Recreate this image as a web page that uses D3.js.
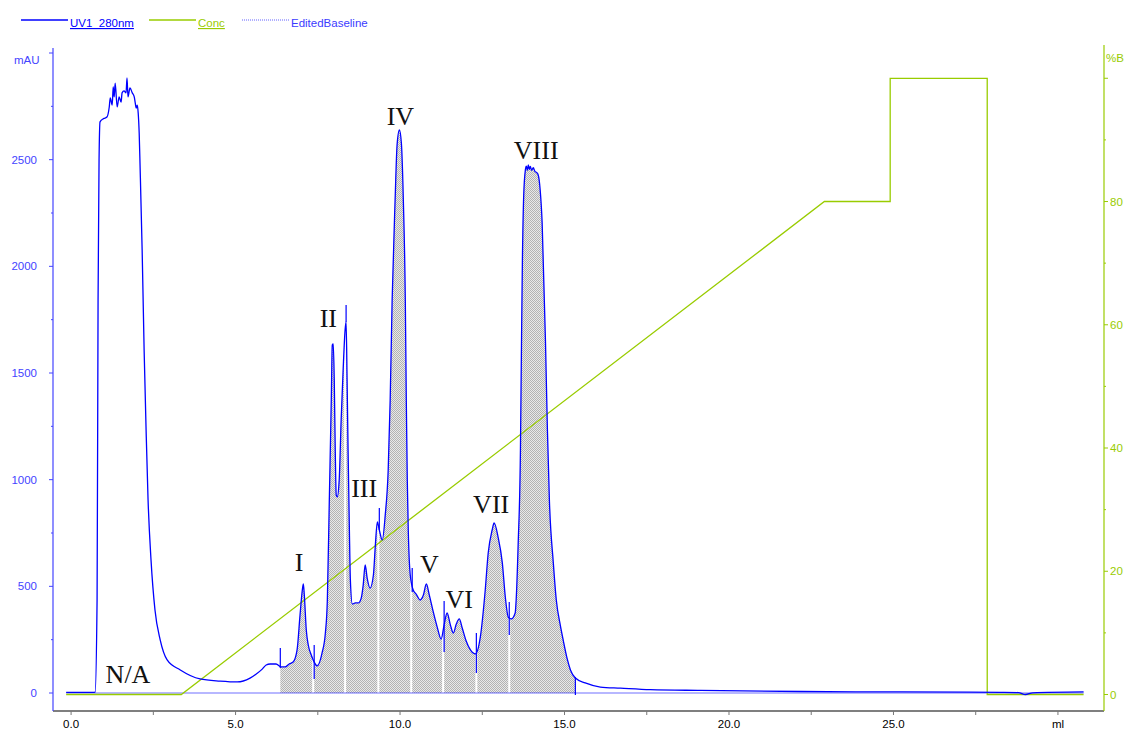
<!DOCTYPE html>
<html>
<head>
<meta charset="utf-8">
<script src="https://cdn.jsdelivr.net/npm/d3@7.9.0/dist/d3.min.js"></script>
<style>
  body { margin: 0; background: #fff; }
  svg { display: block; font-family: "Liberation Sans", Arial, sans-serif; }
</style>
</head>
<body>
<div id="chart"></div>
<script>
// UV trace [ml, mAU]
const uvTrace = [
  [-0.15,3],[0.27,3],[0.67,3],[0.73,4],[0.79,436],[0.82,1842],[0.85,2498],[0.88,2677],[0.97,2691],
  [1.03,2695],[1.09,2700],[1.16,2747],[1.19,2789],[1.25,2756],[1.28,2841],[1.31,2794],[1.34,2859],
  [1.40,2747],[1.46,2794],[1.52,2770],[1.55,2813],[1.61,2822],[1.67,2813],[1.70,2883],[1.73,2794],
  [1.79,2836],[1.86,2813],[1.92,2794],[1.95,2766],[1.98,2742],[2.01,2756],[2.04,2719],[2.07,2625],
  [2.10,2452],[2.16,2077],[2.22,1608],[2.28,1233],[2.34,905],[2.43,623],[2.55,389],[2.71,248],
  [2.92,155],[3.32,108],[3.92,66],[4.53,56],[5.05,52],[5.44,70],[5.63,89],[5.81,112],[5.93,131],
  [6.05,136],[6.23,136],[6.39,122],[6.51,122],[6.63,136],[6.75,145],[6.87,202],[6.96,366],[7.03,483],
  [7.06,511],[7.09,459],[7.15,295],[7.21,225],[7.30,178],[7.39,145],[7.48,127],[7.63,188],[7.73,281],
  [7.79,436],[7.85,905],[7.91,1373],[7.94,1631],[7.97,1636],[8.00,1467],[8.03,1139],[8.06,928],
  [8.09,919],[8.15,998],[8.21,1280],[8.27,1514],[8.33,1702],[8.36,1739],[8.39,1467],[8.42,1139],
  [8.46,764],[8.49,530],[8.55,417],[8.64,422],[8.73,422],[8.82,445],[8.88,506],[8.94,600],[9.00,539],
  [9.09,492],[9.19,553],[9.25,694],[9.31,802],[9.37,764],[9.46,717],[9.55,834],[9.64,1045],[9.70,1373],
  [9.76,1842],[9.85,2311],[9.91,2569],[9.98,2639],[10.04,2578],[10.10,2311],[10.16,1842],[10.19,1373],
  [10.22,998],[10.25,764],[10.31,553],[10.40,483],[10.49,464],[10.61,436],[10.71,459],[10.80,511],
  [10.89,459],[11.01,380],[11.13,309],[11.25,253],[11.34,319],[11.43,375],[11.53,319],[11.62,281],
  [11.71,323],[11.80,347],[11.89,305],[12.01,244],[12.14,202],[12.29,183],[12.44,262],[12.59,483],
  [12.68,656],[12.80,764],[12.86,797],[12.98,731],[13.11,609],[13.20,450],[13.29,356],[13.38,347],
  [13.50,375],[13.53,436],[13.59,694],[13.66,1139],[13.69,1608],[13.72,2030],[13.76,2334],[13.81,2452],
  [13.84,2470],[13.87,2450],[13.90,2475],[13.93,2455],[13.96,2468],[14.00,2450],[14.05,2462],
  [14.10,2445],[14.15,2440],[14.20,2428],[14.26,2358],[14.32,2203],[14.42,1655],[14.48,1233],
  [14.54,905],[14.66,609],[14.75,436],[14.87,319],[14.96,248],[15.09,155],[15.18,108],[15.33,70],
  [15.63,47],[16.09,28],[16.70,23],[17.61,16],[19.13,12],[22.17,7],[25.21,5],[28.25,3],[28.80,2],
  [29.01,-7],[29.23,1],[30.78,5]
];

// gradient (%B)
const concMl = [-0.15, 3.35, 22.9, 24.9, 24.9, 27.85, 27.85, 30.78];
const concB  = [0, 0, 80, 80, 100, 100, 0, 0];

// fraction cut points (ml), first and last bound the integrated region
const fractionCuts = [6.36, 7.36, 8.33, 9.34, 10.34, 11.31, 12.32, 13.32, 15.33];

// peak drop markers: ml, top mAU, bottom mAU
const markerMl  = [6.36, 7.39, 8.36, 9.37, 10.37, 11.34, 12.32, 13.32, 15.33];
const markerTop = [211, 225, 1819, 867, 586, 431, 281, 427, 75];
const markerBot = [117, 66, 1739, 764, 473, 192, 94, 272, -9];

// peak labels
const peakNames = ["N/A", "I", "II", "III", "IV", "V", "VI", "VII", "VIII"];
const peakMl    = [1.73, 6.93, 7.82, 8.91, 10.01, 10.89, 11.80, 12.77, 14.14];
const peakMau   = [47, 572, 1716, 919, 2664, 561, 398, 846, 2505];

const xTicks = d3.range(0, 30.01, 2.5);
const xLabels = [0, 5, 10, 15, 20, 25];
const yTicks = d3.range(0, 3001, 250);
const yLabels = [0, 500, 1000, 1500, 2000, 2500];
const bTicks = d3.range(0, 101, 10);
const bLabels = [0, 20, 40, 60, 80];

const W = 1126, H = 731;
const blue = "#0000ff", axisBlue = "#4444ff", green = "#99cc00";
const fs = 11.5;

const svg = d3.select("#chart").append("svg")
  .attr("width", W).attr("height", H);

const x = d3.scaleLinear().domain([-0.55, 31.4]).range([53, 1104]);
const y = d3.scaleLinear().domain([0, 3000]).range([693, 53]);
const yB = d3.scaleLinear().domain([0, 105.4]).range([694.5, 45]);

// dither pattern for integrated peaks
const defs = svg.append("defs");
const pat = defs.append("pattern")
  .attr("id", "dither").attr("width", 2).attr("height", 2)
  .attr("patternUnits", "userSpaceOnUse");
pat.append("rect").attr("width", 2).attr("height", 2).attr("fill", "#e8e8e8");
pat.append("rect").attr("width", 1).attr("height", 1).attr("fill", "#b2b2b2");
pat.append("rect").attr("x", 1).attr("y", 1).attr("width", 1).attr("height", 1).attr("fill", "#b2b2b2");

const inRegion = uvTrace.filter(d => d[0] >= fractionCuts[0] - 0.2 && d[0] <= fractionCuts[fractionCuts.length - 1] + 0.2);
const area = d3.area()
  .x(d => x(d[0])).y0(y(0)).y1(d => y(Math.max(0, d[1])))
  .curve(d3.curveMonotoneX);

defs.append("clipPath").attr("id", "cutRange")
  .append("rect")
  .attr("x", x(fractionCuts[0]))
  .attr("width", x(fractionCuts[fractionCuts.length - 1]) - x(fractionCuts[0]))
  .attr("y", 0).attr("height", H);

defs.append("clipPath").attr("id", "peakArea")
  .append("path").attr("d", area(inRegion));

svg.append("g").attr("clip-path", "url(#cutRange)")
  .append("path")
  .attr("d", area(inRegion))
  .attr("fill", "url(#dither)");

// white separators between fractions
svg.append("g").attr("clip-path", "url(#peakArea)")
  .selectAll("line").data(fractionCuts.slice(1, -1)).join("line")
  .attr("x1", d => x(d)).attr("x2", d => x(d))
  .attr("y1", y(0)).attr("y2", 40)
  .attr("stroke", "#fff").attr("stroke-width", 2);

// edited baseline
svg.append("line")
  .attr("x1", x(-0.15)).attr("x2", x(30.78))
  .attr("y1", y(0)).attr("y2", y(0))
  .attr("stroke", blue).attr("stroke-width", 0.8).attr("opacity", 0.7);

// conc line
const concData = concMl.map((m, i) => [m, concB[i]]);
svg.append("path")
  .attr("d", d3.line().x(d => x(d[0])).y(d => yB(d[1]))(concData))
  .attr("fill", "none").attr("stroke", green).attr("stroke-width", 1.3);

// UV trace
svg.append("path")
  .attr("d", d3.line().x(d => x(d[0])).y(d => y(d[1])).curve(d3.curveMonotoneX)(uvTrace))
  .attr("fill", "none").attr("stroke", blue).attr("stroke-width", 1.3);

// drop markers
svg.append("g").selectAll("line").data(markerMl).join("line")
  .attr("x1", d => x(d)).attr("x2", d => x(d))
  .attr("y1", (d, i) => y(markerTop[i])).attr("y2", (d, i) => y(markerBot[i]))
  .attr("stroke", blue).attr("stroke-width", 1.2);

// peak labels
svg.append("g").selectAll("text").data(peakNames).join("text")
  .attr("x", (d, i) => x(peakMl[i]))
  .attr("y", (d, i) => y(peakMau[i]))
  .attr("text-anchor", "middle")
  .attr("font-family", "'Liberation Serif', 'Times New Roman', serif")
  .attr("font-size", 26)
  .attr("fill", "#111")
  .text(d => d);

// bottom axis
const gx = svg.append("g").attr("transform", "translate(0,711)");
gx.append("line").attr("x1", 53).attr("x2", 1104).attr("stroke", "#000").attr("stroke-width", 1.2);
gx.selectAll(".tk").data(xTicks).join("line")
  .attr("x1", d => x(d)).attr("x2", d => x(d)).attr("y1", 0).attr("y2", 4)
  .attr("stroke", "#777").attr("stroke-width", 1);
gx.selectAll(".lb").data(xLabels).join("text")
  .attr("x", d => x(d)).attr("y", 17)
  .attr("text-anchor", "middle").attr("font-size", fs).attr("fill", "#000")
  .text(d => d3.format(".1f")(d));
gx.append("text").attr("x", x(30)).attr("y", 17)
  .attr("text-anchor", "middle").attr("font-size", fs).attr("fill", "#000").text("ml");

// left axis
const gy = svg.append("g").attr("transform", "translate(53,0)");
gy.append("line").attr("y1", 48).attr("y2", 711).attr("stroke", axisBlue).attr("stroke-width", 1.2);
gy.selectAll(".tk").data(yTicks).join("line")
  .attr("y1", d => y(d)).attr("y2", d => y(d))
  .attr("x1", d => d % 500 === 0 ? -4 : -2).attr("x2", 0)
  .attr("stroke", axisBlue).attr("stroke-width", 1);
gy.selectAll(".lb").data(yLabels).join("text")
  .attr("x", -16).attr("y", d => y(d) + 4)
  .attr("text-anchor", "end").attr("font-size", fs).attr("fill", axisBlue)
  .text(d => d);
svg.append("text").attr("x", 14).attr("y", 64)
  .attr("font-size", fs).attr("fill", axisBlue).text("mAU");

// right axis
const gb = svg.append("g").attr("transform", "translate(1104,0)");
gb.append("line").attr("y1", 45).attr("y2", 711).attr("stroke", green).attr("stroke-width", 1.2);
gb.selectAll(".tk").data(bTicks).join("line")
  .attr("y1", d => yB(d)).attr("y2", d => yB(d))
  .attr("x1", 0).attr("x2", d => d % 20 === 0 ? 4 : 2)
  .attr("stroke", green).attr("stroke-width", 1);
gb.selectAll(".lb").data(bLabels).join("text")
  .attr("x", 6).attr("y", d => yB(d) + 4)
  .attr("font-size", fs).attr("fill", green)
  .text(d => d);
svg.append("text").attr("x", 1106).attr("y", 62)
  .attr("font-size", fs).attr("fill", green).text("%B");

// legend
const legend = svg.append("g");
const legendItems = [
  { name: "UV1_280nm", color: blue, x0: 21, dash: null, underline: true, width: 1.5 },
  { name: "Conc", color: green, x0: 149, dash: null, underline: true, width: 1.3 },
  { name: "EditedBaseline", color: "#3b3bff", x0: 242, dash: "1,1", underline: false, width: 0.8 }
];
legendItems.forEach(it => {
  legend.append("line")
    .attr("x1", it.x0).attr("x2", it.x0 + 47).attr("y1", 20).attr("y2", 20)
    .attr("stroke", it.color).attr("stroke-width", it.width)
    .attr("stroke-dasharray", it.dash);
  legend.append("text")
    .attr("x", it.x0 + 49).attr("y", 27)
    .attr("font-size", fs).attr("fill", it.color)
    .attr("text-decoration", it.underline ? "underline" : null)
    .text(it.name);
});
</script>
</body>
</html>
